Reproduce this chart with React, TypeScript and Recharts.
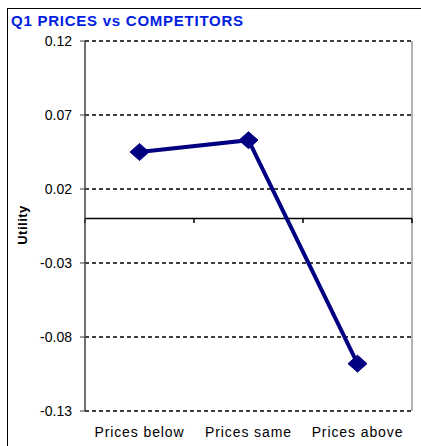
import React from 'react';
import { LineChart, Line, XAxis, YAxis, CartesianGrid, ReferenceLine } from 'recharts';

const title = 'Q1 PRICES vs COMPETITORS';
const categories = ['Prices below', 'Prices same', 'Prices above'];
const utility = [0.045, 0.053, -0.098];
const yTicks = [0.12, 0.07, 0.02, -0.03, -0.08, -0.13];
const yLabel = 'Utility';

const data = categories.map((c, i) => ({ x: i + 0.5, name: c, utility: utility[i] }));
const boundaries = [0, 1, 2, 3];

const Diamond = (props: any) => {
  const { cx, cy } = props;
  if (cx == null || cy == null) return null;
  const hw = 9.5, hh = 8.5;
  return (
    <polygon
      points={`${cx},${cy - hh} ${cx + hw},${cy} ${cx},${cy + hh} ${cx - hw},${cy}`}
      fill="#000080"
      stroke="#000080"
    />
  );
};

export default function App() {
  return (
    <div style={{ position: 'absolute', left: 0, top: 0, width: 421, height: 446, overflow: 'hidden', background: '#fff' }}>
      <div style={{ position: 'absolute', left: 7, top: 8, width: 600, height: 600, border: '1.5px solid #000', boxSizing: 'border-box' }} />
      <div
        style={{
          position: 'absolute', left: 11, top: 13, fontFamily: 'Arial, "Liberation Sans", sans-serif',
          fontWeight: 'bold', fontSize: 15, lineHeight: '15px', color: '#0020e0', letterSpacing: 0.75, whiteSpace: 'nowrap',
        }}
      >
        {title}
      </div>
      <div style={{ position: 'absolute', left: 0, top: 0 }}>
        <LineChart width={421} height={446} data={data} margin={{ top: 41, right: 9, bottom: 5, left: 0 }}>
          <CartesianGrid horizontal vertical={false} stroke="#000" strokeWidth={1.7} strokeDasharray="4 3" />
          <XAxis
            type="number"
            dataKey="x"
            domain={[0, 3]}
            ticks={data.map((d) => d.x)}
            tickFormatter={(v: number) => categories[Math.floor(v)]}
            axisLine={false}
            tickLine={false}
            height={30}
            tickSize={6}
            tickMargin={10}
            interval={0}
            tick={{ fill: '#000', fontSize: 14, fontFamily: 'Arial, "Liberation Sans", sans-serif', letterSpacing: 0.9 }}
          />
          <YAxis
            type="number"
            domain={[-0.13, 0.12]}
            ticks={yTicks}
            interval={0}
            width={85}
            tickFormatter={(v: number) => v.toFixed(2)}
            axisLine={{ stroke: '#404040', strokeWidth: 1.5 }}
            tickLine={{ stroke: '#404040' }}
            tickSize={5}
            tickMargin={8}
            tick={{ fill: '#000', fontSize: 14, fontFamily: 'Arial, "Liberation Sans", sans-serif' }}
            label={{
              content: () => (
                <text
                  x={22}
                  y={225}
                  transform="rotate(-90 22 225)"
                  textAnchor="middle"
                  dominantBaseline="central"
                  fontFamily='Arial, "Liberation Sans", sans-serif'
                  fontWeight="bold"
                  fontSize={13}
                  letterSpacing={0.5}
                  fill="#000"
                >
                  {yLabel}
                </text>
              ),
            }}
          />
          <ReferenceLine x={3} stroke="#999" strokeWidth={1.5} />
          <ReferenceLine y={0} stroke="#000" strokeWidth={1.5} />
          {boundaries.map((b) => (
            <ReferenceLine
              key={b}
              segment={[{ x: b, y: 0 }, { x: b, y: -0.003 }]}
              stroke="#000"
              strokeWidth={1.5}
            />
          ))}
          <Line
            type="linear"
            dataKey="utility"
            stroke="#000080"
            strokeWidth={4}
            dot={<Diamond />}
            activeDot={false}
            isAnimationActive={false}
          />
        </LineChart>
      </div>
    </div>
  );
}
